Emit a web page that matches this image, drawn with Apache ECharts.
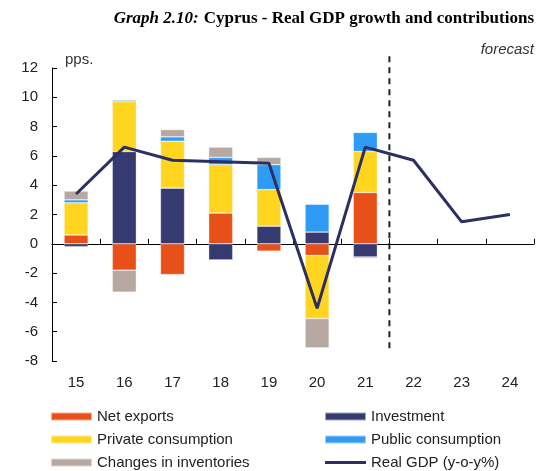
<!DOCTYPE html>
<html>
<head>
<meta charset="utf-8">
<script src="https://cdn.jsdelivr.net/npm/echarts@6/dist/echarts.min.js"></script>
<style>
  html, body { margin: 0; padding: 0; background: #fff; }
  #chart { width: 539px; height: 471px; }
</style>
</head>
<body>
<div id="chart"></div>
<script>
// Years (2015-2024); 2022 onwards are forecast years
const years = ['15', '16', '17', '18', '19', '20', '21', '22', '23', '24'];

// Contributions to real GDP growth, percentage points
const netExports     = [0.6, -1.8, -2.1, 2.1, -0.5, -0.8, 3.5, null, null, null];
const investment     = [-0.2, 6.3, 3.8, -1.1, 1.2, 0.8, -0.9, null, null, null];
const privateCons    = [2.2, 3.4, 3.2, 3.3, 2.5, -4.3, 2.8, null, null, null];
const publicCons     = [0.2, 0.1, 0.3, 0.5, 1.7, 1.9, 1.3, null, null, null];
const inventories    = [0.6, -1.5, 0.5, 0.7, 0.5, -2.0, -0.1, null, null, null];

// Real GDP growth, y-o-y %
const realGdp = [3.4, 6.6, 5.7, 5.6, 5.5, -4.4, 6.6, 5.7, 1.5, 2.0];

const yTicks = { min: -8, max: 12, interval: 2 };

const TEXT = '#222';
const FONT = 'Liberation Sans';

const chart = echarts.init(document.getElementById('chart'), null, { renderer: 'canvas' });

function barSeries(name, data, color) {
  return {
    name: name,
    type: 'bar',
    stack: 'contrib',
    data: data,
    barWidth: '50%',
    xAxisIndex: 0,
    itemStyle: { color: color, borderColor: 'rgba(255,255,255,0.55)', borderWidth: 0.6 },
    emphasis: { disabled: true }
  };
}

const legendCommon = {
  orient: 'vertical', top: 404, height: 70, itemGap: 8,
  itemWidth: 41, itemHeight: 8,
  textStyle: { fontFamily: FONT, fontSize: 15, color: TEXT },
  selectedMode: false
};

const ppsLabel = {
  type: 'text', left: 65, top: 52,
  style: { text: 'pps.', fontFamily: FONT, fontSize: 15, fill: '#333' }
};

const option = {
  animation: false,
  title: [
    {
      right: 0,
      top: 5,
      text: '{i|Graph 2.10:} {b|Cyprus - Real GDP growth and contributions}',
      textStyle: {
        rich: {
          i: { fontFamily: 'Liberation Serif', fontStyle: 'italic', fontSize: 17, color: '#000' },
          b: { fontFamily: 'Liberation Serif', fontWeight: 'bold', fontSize: 17, color: '#000' }
        }
      }
    },
    {
      right: 0,
      top: 37,
      text: 'forecast',
      textStyle: { fontFamily: FONT, fontStyle: 'italic', fontWeight: 'normal', fontSize: 15, color: '#333' }
    }
  ],
  grid: { left: 52, right: 5, top: 68, bottom: 110 },
  legend: [
    Object.assign({}, legendCommon, {
      left: 45,
      data: [
        { name: 'Net exports', icon: 'rect' },
        { name: 'Private consumption', icon: 'rect' },
        { name: 'Changes in inventories', icon: 'rect' }
      ]
    }),
    Object.assign({}, legendCommon, {
      left: 319,
      data: [
        { name: 'Investment', icon: 'rect' },
        { name: 'Public consumption', icon: 'rect' },
        { name: 'Real GDP (y-o-y%)', icon: 'path://M0,0H41V3H0Z' }
      ]
    })
  ],
  xAxis: [
    {
      type: 'category',
      data: years,
      position: 'bottom',
      axisLine: { onZero: true, lineStyle: { color: '#000', width: 1 } },
      axisTick: { show: true, inside: true, length: 5, alignWithLabel: false, lineStyle: { color: '#000' } },
      axisLabel: { show: false },
      splitLine: { show: false }
    },
    {
      type: 'category',
      data: years,
      position: 'bottom',
      axisLine: { show: false, onZero: false },
      axisTick: { show: false },
      axisLabel: { show: true, margin: 14, fontFamily: FONT, fontSize: 15, color: TEXT },
      splitLine: { show: false }
    }
  ],
  yAxis: {
    type: 'value',
    min: yTicks.min, max: yTicks.max, interval: yTicks.interval,
    axisLine: { show: true, lineStyle: { color: '#000', width: 1 } },
    axisTick: { show: true, inside: true, length: 5, lineStyle: { color: '#000' } },
    axisLabel: { margin: 14, fontFamily: FONT, fontSize: 15, color: TEXT },
    splitLine: { show: false }
  },
  graphic: [ppsLabel],
  series: [
    barSeries('Net exports', netExports, '#e8501a'),
    barSeries('Investment', investment, '#353a70'),
    barSeries('Private consumption', privateCons, '#ffd520'),
    barSeries('Public consumption', publicCons, '#2e9bf5'),
    barSeries('Changes in inventories', inventories, '#b7a9a1'),
    {
      name: 'Real GDP (y-o-y%)',
      type: 'line',
      data: realGdp,
      xAxisIndex: 0,
      symbol: 'none',
      z: 10,
      lineStyle: { color: '#2b2f63', width: 3 },
      itemStyle: { color: '#2b2f63' },
      emphasis: { disabled: true }
    }
  ]
};

chart.setOption(option);

// Dashed divider between actual and forecast years, placed midway between 2021 and 2022
const xA = chart.convertToPixel({ xAxisIndex: 0 }, '21');
const xB = chart.convertToPixel({ xAxisIndex: 0 }, '22');
const xMid = (xA + xB) / 2;
const yTop = chart.convertToPixel({ yAxisIndex: 0 }, 12.8);
const yBot = chart.convertToPixel({ yAxisIndex: 0 }, -7.4);
chart.setOption({
  graphic: [
    ppsLabel,
    {
      type: 'line',
      shape: { x1: xMid, y1: yTop, x2: xMid, y2: yBot },
      style: { stroke: '#222', lineWidth: 2, lineDash: [6, 5] },
      z: 20
    }
  ]
});
</script>
</body>
</html>
